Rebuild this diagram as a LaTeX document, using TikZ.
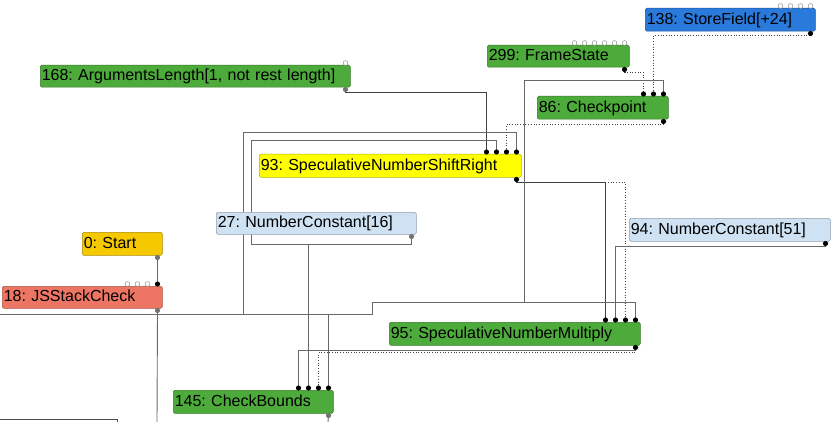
\documentclass[tikz,border=0pt]{standalone}
\usepackage{fontspec}
\setmainfont{Liberation Sans}
\frenchspacing
\usetikzlibrary{calc,backgrounds}

\definecolor{opgreen}{RGB}{77,171,59}
\definecolor{opyellow}{RGB}{255,255,0}
\definecolor{constblue}{RGB}{207,226,243}
\definecolor{startgold}{RGB}{246,200,0}
\definecolor{stacksalmon}{RGB}{237,117,100}
\definecolor{storeblue}{RGB}{42,122,220}
\definecolor{edgegray}{RGB}{105,105,105}

\begin{document}
\begin{tikzpicture}[
    x=1pt, y=-1pt,
    line cap=round,
    opnode/.style={anchor=north west, align=left, inner xsep=1.5pt, inner ysep=0pt,
        text height=11.5pt, text depth=2.5pt, minimum height=23pt,
        rounded corners=1.5pt, draw=#1!70!black, line width=0.5pt, fill=#1,
        font=\fontsize{16}{18}\selectfont},
    edge/.style={draw=edgegray, line width=0.9pt},
    effect/.style={draw=black!75, line width=0.7pt, dotted},
    inport/.style={fill=black},
    outport/.style={fill=black},
    greyport/.style={fill=black!55},
    freeport/.style={draw=black!45, fill=white, line width=0.5pt}
]

\useasboundingbox (0,0) rectangle (834,422);

% -------------------------------------------------
% Operation nodes
% -------------------------------------------------

\node[opnode=storeblue, text width=167pt] (n138) at (645,8) {138: StoreField[+24]};
\node[opnode=opgreen, text width=139pt, minimum height=22pt] (n299) at (487,45) {299: FrameState};
\node[opnode=opgreen, text width=128pt] (n86) at (537,96) {86: Checkpoint};
\node[opnode=opgreen, text width=307pt, minimum height=22pt] (n168) at (40,65) {168: ArgumentsLength[1, not rest length]};
\node[opnode=opyellow, text width=259pt] (n93) at (259,154) {93: SpeculativeNumberShiftRight};
\node[opnode=constblue, text width=197pt, minimum height=22pt] (n27) at (216,212) {27: NumberConstant[16]};
\node[opnode=startgold, text width=77pt] (n0) at (82,232) {0: Start};
\node[opnode=stacksalmon, text width=157pt, minimum height=22pt] (n18) at (2,286) {18: JSStackCheck};
\node[opnode=constblue, text width=198pt] (n94) at (629,218) {94: NumberConstant[51]};
\node[opnode=opgreen, text width=248pt] (n95) at (389,322) {95: SpeculativeNumberMultiply};
\node[opnode=opgreen, text width=157pt] (n145) at (173,390) {145: CheckBounds};

% -------------------------------------------------
% Ports
% -------------------------------------------------

% outputs, below the right end
\foreach \nd in {138,299,86,168,93,27,0,18,94,95,145}
    \coordinate (o\nd) at ($(n\nd.south east)+(-5,2)$);

% inputs, numbered from the left
\foreach \nd/\k in {86/3,93/4,95/4,145/4,18/1}
    \foreach \i in {1,...,\k}
        \coordinate (i\nd-\i) at ($(n\nd.north east)+({-5-10*(\k-\i)},-2)$);

% free ends at the border
\coordinate (busW) at (0,314);
\coordinate (s18) at (157,422);
\coordinate (s145) at (328,422);

% -------------------------------------------------
% Edges (behind the nodes)
% -------------------------------------------------

\begin{scope}[on background layer]

% effect chain
\draw[effect] (o138) -- ++(0,2) -| (i86-2);
\draw[effect] (o299) -- ++(0,3) -| (i86-1);
\draw[effect] (o86) -- ++(0,3) -| (i93-3);
\draw[effect] (o93) -- ++(0,3) -| (i95-3);
\draw[effect] (o95) -- ++(0,5) -| (i145-3);

% values
\draw[edge, draw=black!75] (o168) -- ++(0,3) -| (i93-1);
\draw[edge] (o27) -- ++(0,8) -| (251,140) -| (i93-2);
\draw[edge] (o27) -- ++(0,8) -| (i145-2);
\draw[edge, draw=black!75] (o93) -- ++(0,3) -| (i95-1);
\draw[edge] (o94) -- ++(0,3) -| (i95-2);
\draw[edge] (o95) -- ++(0,3) -| (i145-1);

% control from Start and JSStackCheck
\draw[edge] (o0) -- (i18-1);
\draw[edge] (o18) |- (busW);
\draw[edge] (o18) -- (s18);
\draw[edge] (o18) |- (243,314) -- (243,132) -| (i93-4);
\draw[edge] (o18) -- ++(0,4) -| (i145-4);
\draw[edge] (o18) -- ++(0,4) -| (372,302) -| (i95-4);
\draw[edge] (o18) -- ++(0,4) -| (372,302) -| (524,80) -| (i86-3);
\draw[edge] (o145) -- (s145);

% node cut off at the bottom
\draw[draw=black!70, line width=0.8pt] (0,419) -| (117,423);

\end{scope}

% -------------------------------------------------
% Port dots
% -------------------------------------------------

\foreach \p in {i86-1,i86-2,i86-3,i93-1,i93-2,i93-3,i93-4,i95-1,i95-2,i95-3,i95-4,
                i145-1,i145-2,i145-3,i145-4,i18-1}
    \fill[inport] (\p) circle[radius=2.6pt];

\foreach \p in {o138,o299,o86,o93,o94,o95}
    \fill[outport] (\p) circle[radius=2.6pt];

\foreach \p in {o168,o27,o0,o18,o145}
    \fill[greyport] (\p) circle[radius=2.6pt];

% unused inputs
\foreach \nd/\k in {138/4,299/6,168/1}
    \foreach \i in {1,...,\k}
        \draw[freeport] ($(n\nd.north east)+({-5-10*(\i-1)},-2)$) circle[radius=2.4pt];
\foreach \i in {2,3,4}
    \draw[freeport] ($(n18.north east)+({-5-10*(\i-1)},-2)$) circle[radius=2.4pt];

\end{tikzpicture}
\end{document}
